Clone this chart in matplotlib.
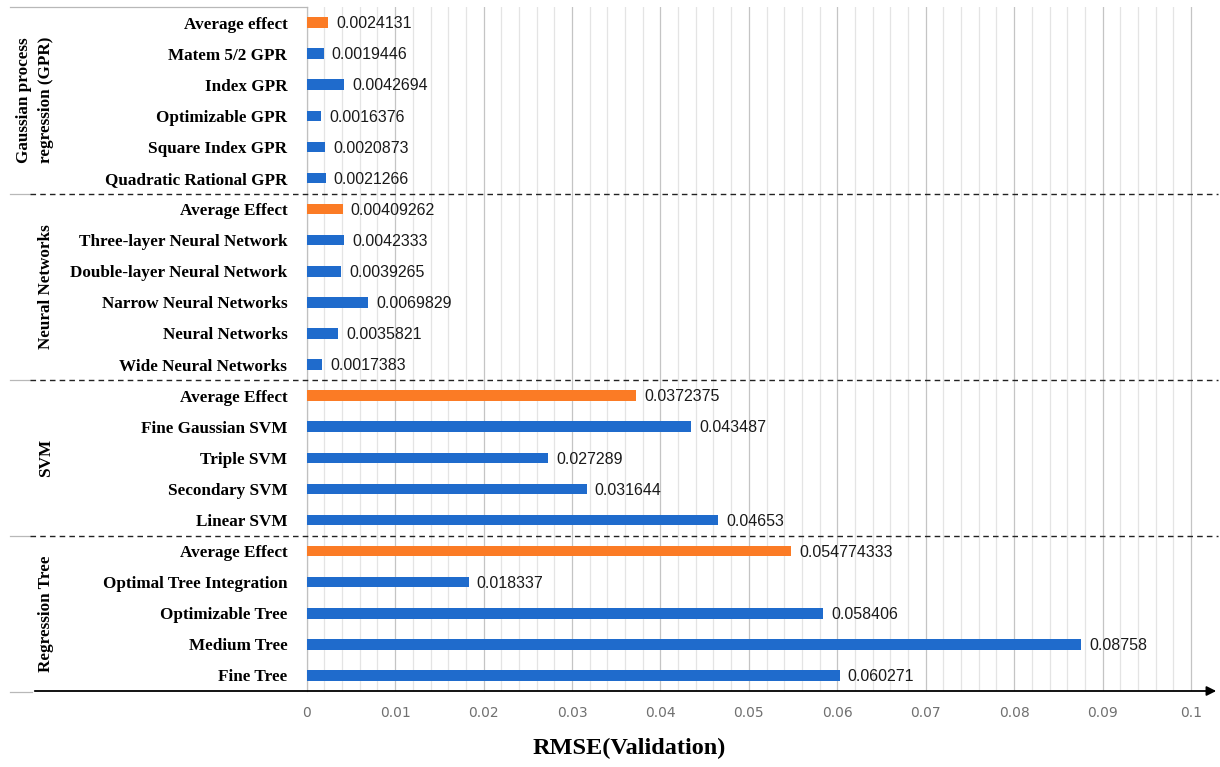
import matplotlib
matplotlib.use('Agg')
import matplotlib.pyplot as plt
from matplotlib.lines import Line2D
from matplotlib.patches import FancyArrowPatch
from matplotlib.ticker import FixedLocator, FuncFormatter
import matplotlib.transforms as mtransforms

# rows listed top to bottom, grouped by model family
groups = ['Gaussian process\nregression (GPR)', 'Neural Networks', 'SVM', 'Regression Tree']
group_sizes = [6, 6, 5, 5]

labels = [
    'Average effect', 'Matem 5/2 GPR', 'Index GPR', 'Optimizable GPR',
    'Square Index GPR', 'Quadratic Rational GPR',
    'Average Effect', 'Three-layer Neural Network', 'Double-layer Neural Network',
    'Narrow Neural Networks', 'Neural Networks', 'Wide Neural Networks',
    'Average Effect', 'Fine Gaussian SVM', 'Triple SVM', 'Secondary SVM', 'Linear SVM',
    'Average Effect', 'Optimal Tree Integration', 'Optimizable Tree', 'Medium Tree', 'Fine Tree',
]
rmse = [
    0.0024131, 0.0019446, 0.0042694, 0.0016376, 0.0020873, 0.0021266,
    0.00409262, 0.0042333, 0.0039265, 0.0069829, 0.0035821, 0.0017383,
    0.0372375, 0.043487, 0.027289, 0.031644, 0.04653,
    0.054774333, 0.018337, 0.058406, 0.08758, 0.060271,
]
x_ticks = [0, 0.01, 0.02, 0.03, 0.04, 0.05, 0.06, 0.07, 0.08, 0.09, 0.1]

BLUE = '#1f6bcc'
ORANGE = '#fb7b25'
W, H = 1220, 767

fig = plt.figure(figsize=(W / 100, H / 100), dpi=100)
left, right, top, bottom = 306.7, 1212, 7, 691
ax = fig.add_axes([left / W, 1 - bottom / H, (right - left) / W, (bottom - top) / H])

n = len(labels)
ypos = [n - 1 - i for i in range(n)]
colors = [ORANGE if lab.startswith('Average') else BLUE for lab in labels]
ax.barh(ypos, rmse, height=0.34, color=colors, zorder=3)
for y, v in zip(ypos, rmse):
    ax.text(v + 0.0009, y - 0.04, str(v), va='center', ha='left', fontsize=11.5,
            family='Liberation Sans', color='#1a1a1a', zorder=4)

px_per_unit = 88.43 / 0.01
ax.set_xlim(0, (right - left) / px_per_unit)
ax.set_ylim(-0.5, n - 0.5)

ax.xaxis.set_major_locator(FixedLocator(x_ticks))
ax.xaxis.set_major_formatter(FuncFormatter(lambda v, p: '0' if v == 0 else f'{v:g}'))
ax.xaxis.set_minor_locator(FixedLocator([i * 0.002 for i in range(51) if i % 5]))
ax.grid(axis='x', which='major', color='#c4c4c4', lw=0.9, zorder=0)
ax.grid(axis='x', which='minor', color='#e4e4e4', lw=0.9, zorder=0)
ax.tick_params(axis='x', which='both', length=0, pad=11, labelsize=10, labelcolor='#707070')

ax.set_yticks(ypos)
ax.set_yticklabels(labels, family='Liberation Serif', fontweight='bold', fontsize=12.3)
ax.tick_params(axis='y', length=0, pad=14)

for s in ['top', 'right', 'bottom']:
    ax.spines[s].set_visible(False)
ax.spines['left'].set_color('#c0c0c0')
ax.spines['left'].set_linewidth(0.9)

# frame of the label column
blend = mtransforms.blended_transform_factory(fig.transFigure, ax.transData)
fig.add_artist(Line2D([10 / W, left / W], [1 - top / H] * 2, color='#b8b8b8', lw=0.9))
fig.add_artist(Line2D([10 / W, 32 / W], [1 - 692 / H] * 2, color='#b8b8b8', lw=0.9))

# dashed separators between model families
start = 0
for size in group_sizes[:-1]:
    start += size
    yb = n - start - 0.5
    fig.add_artist(Line2D([10 / W, 30 / W], [yb, yb], transform=blend, color='#b8b8b8', lw=0.9))
    fig.add_artist(Line2D([30 / W, 1218 / W], [yb, yb], transform=blend, color='#222222',
                          lw=1.0, ls=(0, (4, 3))))

# family names along the left edge
start = 0
for name, size in zip(groups, group_sizes):
    yc = n - start - (size + 1) / 2
    xc = 35 / W if '\n' in name else 46 / W
    fig.text(xc, yc, name, transform=blend, rotation=90, ha='center', va='center',
             family='Liberation Serif', fontweight='bold', fontsize=12.3, linespacing=1.5)
    start += size

# x axis drawn as an arrow across the whole figure
fig.add_artist(FancyArrowPatch((32 / W, 1 - 691 / H), (1219 / W, 1 - 691 / H),
                               transform=fig.transFigure, arrowstyle='-|>',
                               mutation_scale=14, color='black', lw=1.3))

fig.text(629 / W, 1 - 748 / H, 'RMSE(Validation)', ha='center', va='center',
         family='Liberation Serif', fontweight='bold', fontsize=17.5)

fig.savefig('out.png', dpi=100, facecolor='white')
